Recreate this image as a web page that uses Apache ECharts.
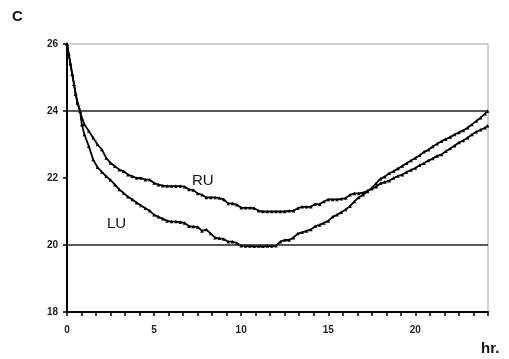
<!DOCTYPE html>
<html>
<head>
<meta charset="utf-8">
<script src="https://cdn.jsdelivr.net/npm/echarts@6/dist/echarts.min.js"></script>
<style>
  html, body { margin: 0; padding: 0; background: #fff; }
  #chart { width: 509px; height: 359px; }
</style>
</head>
<body>
<div id="chart"></div>
<script>
// Time since start, hours
const hours = [
  0, 0.1, 0.2, 0.3, 0.4, 0.5, 0.6, 0.75, 0.85,
  1.0, 1.25, 1.5, 1.75, 2.0, 2.25, 2.5, 2.75, 3.0,
  3.25, 3.5, 3.75, 4.0, 4.25, 4.5, 4.75, 5.0,
  5.25, 5.5, 5.75, 6.0, 6.25, 6.5, 6.75, 7.0,
  7.25, 7.5, 7.75, 8.0, 8.25, 8.5, 8.75, 9.0,
  9.25, 9.5, 9.75, 10.0, 10.25, 10.5, 10.75, 11.0,
  11.25, 11.5, 11.75, 12.0, 12.25, 12.5, 12.75, 13.0,
  13.25, 13.5, 13.75, 14.0, 14.25, 14.5, 14.75, 15.0,
  15.25, 15.5, 15.75, 16.0, 16.25, 16.5, 16.75, 17.0,
  17.25, 17.5, 17.75, 18.0, 18.25, 18.5, 18.75, 19.0,
  19.25, 19.5, 19.75, 20.0, 20.25, 20.5, 20.75, 21.0,
  21.25, 21.5, 21.75, 22.0, 22.25, 22.5, 22.75, 23.0,
  23.25, 23.5, 23.75, 24.0, 24.15
];

// RU temperature (C)
const ru = [
  26.0, 25.7, 25.4, 25.1, 24.8, 24.5, 24.25, 24.0, 23.8,
  23.6, 23.4, 23.2, 23.0, 22.85, 22.6, 22.45, 22.35, 22.25,
  22.2, 22.1, 22.05, 22.0, 22.0, 21.95, 21.95, 21.85,
  21.8, 21.77, 21.76, 21.76, 21.76, 21.76, 21.74, 21.66,
  21.64, 21.54, 21.5, 21.42, 21.42, 21.42, 21.4, 21.36,
  21.24, 21.24, 21.2, 21.11, 21.11, 21.11, 21.1, 21.02,
  21.0, 21.0, 21.0, 21.0, 21.0, 21.0, 21.02, 21.02,
  21.1, 21.14, 21.14, 21.14, 21.22, 21.22, 21.3, 21.36,
  21.36, 21.36, 21.38, 21.4, 21.5, 21.54, 21.54, 21.56,
  21.62, 21.68, 21.74, 21.84, 21.88, 21.92, 22.0, 22.06,
  22.1, 22.18, 22.24, 22.3, 22.38, 22.44, 22.52, 22.58,
  22.66, 22.7, 22.8, 22.88, 22.96, 23.06, 23.12, 23.2,
  23.3, 23.38, 23.44, 23.5, 23.56
];

// LU temperature (C)
const lu = [
  26.0, 25.7, 25.4, 25.1, 24.8, 24.5, 24.25, 24.0, 23.6,
  23.3, 22.95, 22.55, 22.32, 22.18, 22.05, 21.94, 21.8, 21.66,
  21.55, 21.44, 21.36, 21.26, 21.18, 21.1, 21.02, 20.9,
  20.84, 20.78, 20.72, 20.7, 20.7, 20.68, 20.66, 20.56,
  20.55, 20.54, 20.42, 20.46, 20.34, 20.22, 20.2, 20.18,
  20.1, 20.1, 20.06, 19.98, 19.97, 19.97, 19.96, 19.97,
  19.96, 19.97, 19.97, 19.98, 20.1, 20.15, 20.15, 20.22,
  20.34, 20.38, 20.42, 20.46, 20.56, 20.6, 20.66, 20.72,
  20.84, 20.9, 20.98, 21.06, 21.16, 21.3, 21.42, 21.5,
  21.6, 21.7, 21.84, 21.98, 22.04, 22.14, 22.2, 22.28,
  22.36, 22.44, 22.52, 22.6, 22.68, 22.78, 22.84, 22.94,
  23.02, 23.1, 23.16, 23.22, 23.3, 23.36, 23.42, 23.5,
  23.6, 23.7, 23.8, 23.92, 24.0
];

// Reference temperature lines
const refLines = [20, 24];

const FONT = 'Liberation Sans, Arial, sans-serif';
const pair = (vals) => hours.map((h, i) => [h, vals[i]]);

const seriesStyle = {
  type: 'line',
  symbol: 'triangle',
  symbolSize: 3.5,
  showSymbol: true,
  itemStyle: { color: '#000' },
  lineStyle: { color: '#000', width: 1.8 },
  animation: false,
  z: 3
};

const chart = echarts.init(document.getElementById('chart'));
chart.setOption({
  backgroundColor: '#fff',
  animation: false,
  grid: {
    left: 67, right: 21, top: 44, bottom: 47,
    show: true, borderColor: '#9aa4a4', borderWidth: 1
  },
  xAxis: {
    type: 'value',
    min: 0, max: 24.17, interval: 5 / 6,
    axisLine: { lineStyle: { color: '#000', width: 2 } },
    axisTick: { show: true, length: 4, lineStyle: { color: '#000', width: 1.5 } },
    splitLine: { show: false },
    axisLabel: {
      margin: 13,
      fontFamily: FONT, fontSize: 10, fontWeight: 'bold', color: '#222',
      showMaxLabel: false,
      formatter: (v) => {
        const r = Math.round(v);
        return (Math.abs(v - r) < 0.02 && r % 5 === 0) ? String(r) : '';
      }
    }
  },
  yAxis: {
    type: 'value',
    min: 18, max: 26, interval: 2,
    axisLine: { show: true, lineStyle: { color: '#000', width: 2 } },
    axisTick: { show: true, length: 4, lineStyle: { color: '#000', width: 1.5 } },
    splitLine: { show: false },
    axisLabel: {
      margin: 9,
      fontFamily: FONT, fontSize: 10, fontWeight: 'bold', color: '#222'
    }
  },
  series: [
    Object.assign({}, seriesStyle, {
      name: 'RU', data: pair(ru),
      markLine: {
        silent: true, symbol: 'none', animation: false,
        label: { show: false },
        lineStyle: { color: '#222', width: 1.5, type: 'solid' },
        data: refLines.map(v => ({ yAxis: v }))
      }
    }),
    Object.assign({}, seriesStyle, { name: 'LU', data: pair(lu) })
  ],
  graphic: [
    { type: 'text', left: 12, top: 9,
      style: { text: 'C', font: 'bold 15px ' + FONT, fill: '#111' } },
    { type: 'text', left: 481, top: 341,
      style: { text: 'hr.', font: 'bold 15px ' + FONT, fill: '#111' } },
    { type: 'text', left: 192, top: 173,
      style: { text: 'RU', font: '15px ' + FONT, fill: '#111' } },
    { type: 'text', left: 107, top: 216,
      style: { text: 'LU', font: '15px ' + FONT, fill: '#111' } }
  ]
});
</script>
</body>
</html>
